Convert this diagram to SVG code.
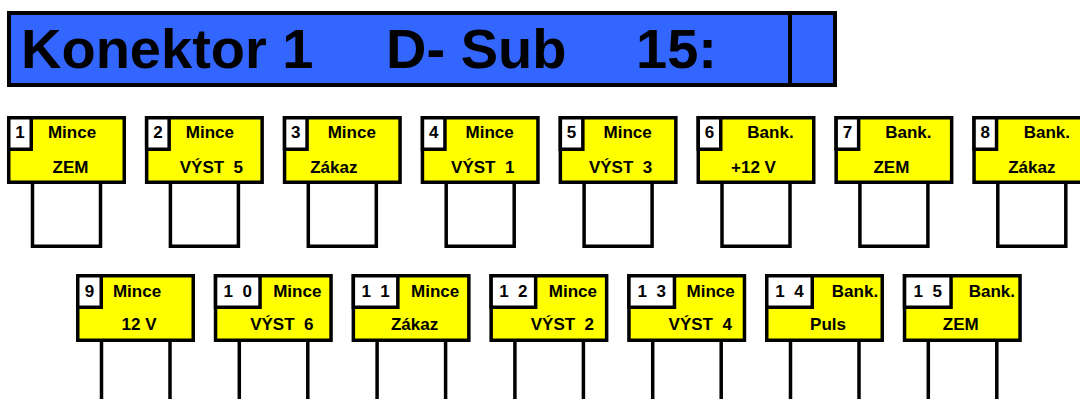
<svg xmlns="http://www.w3.org/2000/svg" width="1080" height="399" viewBox="0 0 1080 399">
<style>
text{font-family:"Liberation Sans",Arial,sans-serif;font-weight:bold;fill:#000}
.t{font-size:56px}
.l{font-size:17px;text-anchor:middle}
.box{fill:#ffff00;stroke:#000;stroke-width:3.5}
.num{fill:#fff;stroke:#000;stroke-width:3.5;stroke-linecap:square}
.pin{fill:none;stroke:#000;stroke-width:3.5}
</style>
<rect width="1080" height="399" fill="#fff"/>
<g id="title">
<rect x="9" y="13" width="826" height="72" fill="#3366ff" stroke="#000" stroke-width="4"/>
<line x1="790" y1="13" x2="790" y2="85" stroke="#000" stroke-width="4"/>
<text class="t" x="21" y="68">Konektor 1</text>
<text class="t" x="386" y="68">D- Sub</text>
<text class="t" x="636" y="68">15:</text>
</g>
<g id="connectors">
<path class="pin" d="M32.5,184V246.25H100.5V184"/>
<path class="pin" d="M170.4,184V246.25H238.4V184"/>
<path class="pin" d="M308.3,184V246.25H376.3V184"/>
<path class="pin" d="M446.2,184V246.25H514.2V184"/>
<path class="pin" d="M584.1,184V246.25H652.1V184"/>
<path class="pin" d="M722,184V246.25H790V184"/>
<path class="pin" d="M859.9,184V246.25H927.9V184"/>
<path class="pin" d="M997.8,184V246.25H1065.8V184"/>
<path class="pin" d="M101.5,342V399M170,342V399"/>
<path class="pin" d="M239.3,342V399M307.8,342V399"/>
<path class="pin" d="M377.1,342V399M445.6,342V399"/>
<path class="pin" d="M514.9,342V399M583.4,342V399"/>
<path class="pin" d="M652.7,342V399M721.2,342V399"/>
<path class="pin" d="M790.5,342V399M859,342V399"/>
<path class="pin" d="M928.3,342V399M996.8,342V399"/>
</g>
<g id="n1" transform="translate(7,116)"><rect class="box" x="1.75" y="1.75" width="115.5" height="64.5"/><rect class="num" x="1.75" y="1.75" width="22.5" height="31.5"/><text class="l" x="13" y="22">1</text><text class="l" x="65" y="22">Mince</text><text class="l" x="63.5" y="57">ZEM</text></g>
<g id="n2" transform="translate(144.9,116)"><rect class="box" x="1.75" y="1.75" width="115.5" height="64.5"/><rect class="num" x="1.75" y="1.75" width="22.5" height="31.5"/><text class="l" x="13" y="22">2</text><text class="l" x="65" y="22">Mince</text><text class="l" x="66.5" y="57" xml:space="preserve">VÝST  5</text></g>
<g id="n3" transform="translate(282.8,116)"><rect class="box" x="1.75" y="1.75" width="115.5" height="64.5"/><rect class="num" x="1.75" y="1.75" width="22.5" height="31.5"/><text class="l" x="13" y="22">3</text><text class="l" x="69" y="22">Mince</text><text class="l" x="51" y="57">Zákaz</text></g>
<g id="n4" transform="translate(420.7,116)"><rect class="box" x="1.75" y="1.75" width="115.5" height="64.5"/><rect class="num" x="1.75" y="1.75" width="22.5" height="31.5"/><text class="l" x="13" y="22">4</text><text class="l" x="69" y="22">Mince</text><text class="l" x="62" y="57" xml:space="preserve">VÝST  1</text></g>
<g id="n5" transform="translate(558.6,116)"><rect class="box" x="1.75" y="1.75" width="115.5" height="64.5"/><rect class="num" x="1.75" y="1.75" width="22.5" height="31.5"/><text class="l" x="13" y="22">5</text><text class="l" x="69" y="22">Mince</text><text class="l" x="62" y="57" xml:space="preserve">VÝST  3</text></g>
<g id="n6" transform="translate(696.5,116)"><rect class="box" x="1.75" y="1.75" width="115.5" height="64.5"/><rect class="num" x="1.75" y="1.75" width="22.5" height="31.5"/><text class="l" x="13" y="22">6</text><text class="l" x="74" y="22">Bank.</text><text class="l" x="57" y="57">+12 V</text></g>
<g id="n7" transform="translate(834.4,116)"><rect class="box" x="1.75" y="1.75" width="115.5" height="64.5"/><rect class="num" x="1.75" y="1.75" width="22.5" height="31.5"/><text class="l" x="13" y="22">7</text><text class="l" x="74" y="22">Bank.</text><text class="l" x="57" y="57">ZEM</text></g>
<g id="n8" transform="translate(972.3,116)"><rect class="box" x="1.75" y="1.75" width="115.5" height="64.5"/><rect class="num" x="1.75" y="1.75" width="22.5" height="31.5"/><text class="l" x="13" y="22">8</text><text class="l" x="74.5" y="22">Bank.</text><text class="l" x="59.5" y="57">Zákaz</text></g>
<g id="n9" transform="translate(76,274)"><rect class="box" x="1.75" y="1.75" width="115.5" height="64.5"/><rect class="num" x="1.75" y="1.75" width="23.5" height="31.5"/><text class="l" x="13.5" y="23">9</text><text class="l" x="61" y="23">Mince</text><text class="l" x="63" y="56">12 V</text></g>
<g id="n10" transform="translate(213.8,274)"><rect class="box" x="1.75" y="1.75" width="115.5" height="64.5"/><rect class="num" x="1.75" y="1.75" width="44.5" height="31.5"/><text class="l" x="24" y="23" xml:space="preserve">1  0</text><text class="l" x="83.5" y="23">Mince</text><text class="l" x="68" y="56" xml:space="preserve">VÝST  6</text></g>
<g id="n11" transform="translate(351.6,274)"><rect class="box" x="1.75" y="1.75" width="115.5" height="64.5"/><rect class="num" x="1.75" y="1.75" width="44.5" height="31.5"/><text class="l" x="24" y="23" xml:space="preserve">1  1</text><text class="l" x="83.5" y="23">Mince</text><text class="l" x="63" y="56">Zákaz</text></g>
<g id="n12" transform="translate(489.4,274)"><rect class="box" x="1.75" y="1.75" width="115.5" height="64.5"/><rect class="num" x="1.75" y="1.75" width="44.5" height="31.5"/><text class="l" x="24" y="23" xml:space="preserve">1  2</text><text class="l" x="83.5" y="23">Mince</text><text class="l" x="73" y="56" xml:space="preserve">VÝST  2</text></g>
<g id="n13" transform="translate(627.2,274)"><rect class="box" x="1.75" y="1.75" width="115.5" height="64.5"/><rect class="num" x="1.75" y="1.75" width="45.5" height="31.5"/><text class="l" x="24.5" y="23" xml:space="preserve">1  3</text><text class="l" x="83.5" y="23">Mince</text><text class="l" x="73" y="56" xml:space="preserve">VÝST  4</text></g>
<g id="n14" transform="translate(765,274)"><rect class="box" x="1.75" y="1.75" width="115.5" height="64.5"/><rect class="num" x="1.75" y="1.75" width="45.5" height="31.5"/><text class="l" x="24.5" y="23" xml:space="preserve">1  4</text><text class="l" x="90" y="23">Bank.</text><text class="l" x="63" y="56">Puls</text></g>
<g id="n15" transform="translate(902.8,274)"><rect class="box" x="1.75" y="1.75" width="115.5" height="64.5"/><rect class="num" x="1.75" y="1.75" width="46.5" height="31.5"/><text class="l" x="25" y="23" xml:space="preserve">1  5</text><text class="l" x="89" y="23">Bank.</text><text class="l" x="58" y="56">ZEM</text></g>
</svg>
